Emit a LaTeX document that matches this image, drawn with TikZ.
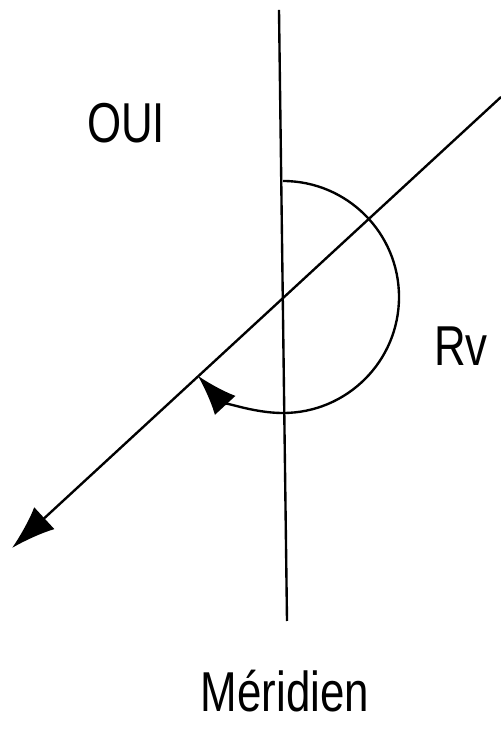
\documentclass[tikz,border=0pt]{standalone}
\usepackage{fontspec}
\setmainfont{Liberation Sans}
\newfontfamily\narrowsans[FakeStretch=0.78]{Liberation Sans}
\usepackage{tikz}
\usetikzlibrary{calc,arrows.meta}

\begin{document}
\begin{tikzpicture}[>=Latex,line width=1.35pt,
  lbl/.style={font=\narrowsans\fontsize{32}{36}\selectfont,anchor=base,inner sep=0pt}]
  \useasboundingbox (0,0) rectangle (10.02,14.64);
  % Meridian and route line
  \coordinate (top) at (5.58,14.44);
  \coordinate (bottom) at (5.74,2.22);
  \coordinate (ne) at (10.02,12.70);
  \coordinate (sw) at (0.24,3.68);
  \coordinate (o) at (5.66,8.70);
  \draw (top) -- (bottom);
  \draw[-{Latex[length=25pt,width=17pt]}] (ne) -- (sw);
  % Route angle measured clockwise from north
  \draw[-{Latex[length=23pt,width=16pt]}] ($(o)+(0,2.32)$) arc[start angle=90,end angle=-137.3,radius=2.32];
  % Labels
  \node[lbl] (oui) at (2.52,11.78) {OUI};
  \node[lbl] (rv) at (9.22,7.32) {Rv};
  \node[lbl] (meridien) at (5.70,0.40) {Méridien};
\end{tikzpicture}
\end{document}
